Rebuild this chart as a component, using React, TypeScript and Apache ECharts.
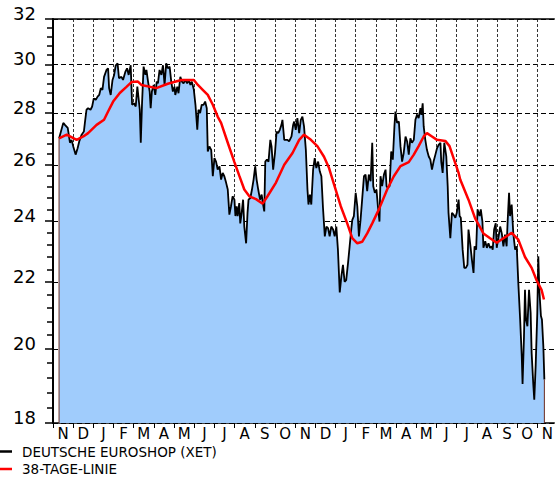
import React, { useEffect, useRef } from 'react';
import * as echarts from 'echarts';

// Month labels along the x axis (one per month, starting in November)
const MONTH_LABELS = ['N', 'D', 'J', 'F', 'M', 'A', 'M', 'J', 'J', 'A', 'S', 'O', 'N', 'D', 'J', 'F', 'M', 'A', 'M', 'J', 'J', 'A', 'S', 'O', 'N'];
// Y tick labels (log-scaled price axis)
const Y_TICK_LABELS = [18, 20, 22, 24, 26, 28, 30, 32];
const SERIES_NAMES = ['DEUTSCHE EUROSHOP (XET)', '38-TAGE-LINIE'];

// [months since 1 Nov, price]
const PRICE: [number, number][] = [
  [0.30, 26.99], [0.51, 27.6], [0.59, 27.52], [0.73, 27.4], [0.84, 26.83], [0.92, 26.94], [1.00, 26.7], [1.12, 26.38], [1.22, 26.62], [1.30, 26.88], [1.42, 27.14], [1.53, 27.26], [1.58, 27.6], [1.66, 28.12], [1.74, 28.18], [1.86, 28.12], [1.94, 28.25], [2.02, 28.58], [2.12, 28.52], [2.21, 28.65], [2.29, 28.72], [2.37, 29.0], [2.45, 28.93], [2.53, 29.47], [2.65, 29.76], [2.73, 29.83], [2.78, 29.0], [2.86, 28.72], [2.95, 29.34], [3.03, 29.55], [3.11, 29.96], [3.20, 30.04], [3.27, 29.41], [3.39, 29.47], [3.47, 29.34], [3.59, 29.69], [3.67, 29.83], [3.75, 29.55], [3.85, 29.96], [3.89, 29.0], [3.92, 28.32], [4.01, 28.38], [4.10, 28.25], [4.18, 29.06],
  [4.30, 28.12], [4.35, 26.83], [4.41, 28.32], [4.49, 29.9], [4.58, 29.55], [4.63, 29.76], [4.71, 29.27], [4.79, 28.86], [4.84, 28.18], [4.90, 28.86], [4.99, 29.13], [5.07, 28.72], [5.14, 29.27], [5.20, 29.2], [5.28, 29.76], [5.37, 29.55], [5.45, 29.96], [5.53, 29.13], [5.61, 30.04], [5.69, 29.83], [5.78, 29.9], [5.86, 29.27], [5.94, 28.86], [6.02, 29.06], [6.06, 28.72], [6.16, 29.06], [6.22, 28.79], [6.31, 29.47], [6.39, 29.27], [6.47, 29.2], [6.55, 29.34], [6.65, 29.2], [6.73, 29.34], [6.81, 29.13], [6.88, 29.27], [6.98, 28.93], [7.06, 28.32], [7.15, 27.33], [7.21, 28.12], [7.29, 27.99], [7.37, 28.32], [7.46, 28.32], [7.54, 28.45], [7.62, 28.18], [7.67, 26.5], [7.75, 26.69], [7.84, 26.56], [7.92, 25.58], [8.00, 26.25], [8.08, 26.12], [8.16, 25.82],
  [8.25, 25.94], [8.33, 25.46], [8.41, 25.7], [8.49, 25.58], [8.58, 25.34], [8.66, 25.1], [8.74, 24.22], [8.82, 24.51], [8.90, 24.86], [8.99, 24.74], [9.04, 24.17], [9.10, 24.51], [9.15, 24.17], [9.23, 24.62], [9.28, 23.92], [9.35, 24.28], [9.42, 24.74], [9.48, 23.81], [9.57, 23.25], [9.64, 24.28], [9.69, 24.74], [9.78, 24.8], [9.86, 25.1], [9.94, 25.46], [10.02, 25.94], [10.09, 25.46], [10.17, 25.1], [10.26, 24.74], [10.34, 24.92], [10.40, 24.62], [10.47, 24.33], [10.52, 26.12], [10.60, 26.19], [10.68, 26.12], [10.77, 26.94], [10.83, 26.69], [10.91, 25.82], [11.00, 26.44], [11.08, 27.26], [11.16, 27.2], [11.24, 27.33], [11.32, 27.52], [11.37, 27.72], [11.46, 26.94], [11.54, 26.94], [11.62, 26.94], [11.70, 26.88], [11.82, 27.07], [11.90, 27.52], [11.95, 27.65], [12.03, 27.33], [12.11, 27.79],
  [12.20, 27.2], [12.28, 27.72], [12.36, 27.85], [12.44, 27.46], [12.53, 26.56], [12.61, 25.1], [12.66, 24.57], [12.73, 24.92], [12.80, 24.57], [12.89, 25.82], [12.97, 26.25], [13.05, 25.88], [13.14, 26.12], [13.22, 25.76], [13.30, 25.58], [13.38, 24.45], [13.47, 23.48], [13.55, 23.81], [13.63, 23.76], [13.71, 23.48], [13.79, 23.81], [13.88, 23.71], [13.96, 23.48], [14.04, 23.81], [14.12, 23.04], [14.21, 21.68], [14.29, 22.18], [14.37, 22.55], [14.45, 22.01], [14.53, 22.06], [14.62, 22.6], [14.70, 23.15], [14.78, 23.71], [14.83, 24.03], [14.91, 24.17], [15.00, 24.98], [15.08, 24.51], [15.16, 23.48], [15.24, 24.03], [15.32, 24.74], [15.41, 25.58], [15.49, 25.64], [15.57, 25.04], [15.65, 25.64], [15.74, 25.4], [15.82, 26.83], [15.87, 25.22], [15.95, 24.98], [16.03, 25.1], [16.10, 24.51],
  [16.18, 23.98], [16.23, 25.58], [16.31, 25.22], [16.40, 25.64], [16.48, 25.82], [16.53, 25.22], [16.59, 25.16], [16.68, 25.22], [16.76, 26.5], [16.84, 26.19], [16.92, 27.46], [16.97, 28.05], [17.05, 27.6], [17.14, 27.65], [17.22, 26.69], [17.30, 26.12], [17.38, 26.44], [17.47, 27.07], [17.55, 26.88], [17.63, 26.38], [17.71, 27.0], [17.79, 26.83], [17.88, 26.94], [17.96, 27.72], [18.04, 27.92], [18.12, 27.79], [18.21, 28.18], [18.26, 27.92], [18.32, 28.38], [18.37, 27.46], [18.45, 26.94], [18.53, 26.56], [18.62, 26.31], [18.70, 26.19], [18.78, 25.82], [18.86, 26.12], [18.95, 26.38], [19.03, 26.62], [19.11, 26.75], [19.20, 26.83], [19.24, 26.12], [19.31, 25.7], [19.39, 26.83], [19.49, 26.31], [19.56, 25.22], [19.60, 24.28], [19.69, 23.42], [19.77, 24.28], [19.85, 24.22], [19.94, 24.11], [20.01, 24.28],
  [20.10, 24.74], [20.15, 24.17], [20.21, 24.11], [20.30, 23.04], [20.38, 22.45], [20.46, 22.45], [20.54, 22.55], [20.59, 23.71], [20.68, 23.2], [20.76, 22.71], [20.84, 22.29], [20.89, 23.15], [20.97, 23.04], [21.04, 24.4], [21.14, 24.17], [21.20, 24.4], [21.28, 23.98], [21.33, 23.1], [21.42, 23.32], [21.50, 23.1], [21.58, 23.25], [21.66, 23.1], [21.74, 23.15], [21.79, 23.04], [21.86, 23.71], [21.94, 23.92], [21.99, 23.1], [22.07, 23.42], [22.16, 23.81], [22.24, 23.58], [22.32, 23.15], [22.40, 23.54], [22.48, 23.15], [22.53, 23.98], [22.60, 24.98], [22.65, 24.17], [22.73, 24.57], [22.81, 23.58], [22.90, 23.04], [22.98, 23.15], [23.06, 21.96], [23.15, 20.86], [23.23, 19.78], [23.27, 19.03], [23.34, 20.35], [23.39, 21.76], [23.44, 20.86], [23.51, 20.66], [23.59, 21.76], [23.67, 21.06], [23.72, 19.88], [23.80, 19.03], [23.85, 18.61], [23.92, 19.54], [24.00, 21.06], [24.05, 22.82], [24.10, 21.76], [24.18, 20.96], [24.23, 20.86], [24.30, 20.07], [24.35, 19.15],
];

// 38-day moving average [months since 1 Nov, value]
const MA38: [number, number][] = [
  [0.30, 27.0], [0.68, 27.14], [1.17, 26.94], [1.50, 27.07], [1.74, 27.2], [2.16, 27.52], [2.53, 27.72], [2.73, 28.05], [2.98, 28.45], [3.31, 28.8], [3.64, 29.05], [3.89, 29.25], [4.21, 29.27], [4.38, 29.13], [5.12, 29.0], [5.69, 29.18], [6.36, 29.34], [6.98, 29.34], [7.18, 29.13], [7.42, 28.93], [7.67, 28.72], [7.92, 28.32], [8.16, 27.85], [8.33, 27.6], [8.66, 26.83], [8.99, 26.1], [9.23, 25.6], [9.48, 25.1], [9.73, 24.86], [10.06, 24.76], [10.39, 24.6], [10.63, 24.86], [11.05, 25.35], [11.46, 26.0], [11.87, 26.44], [12.20, 26.94], [12.44, 27.14], [12.78, 26.94], [13.10, 26.7], [13.43, 26.3], [13.68, 25.88], [13.93, 25.28], [14.26, 24.51], [14.58, 23.92], [14.83, 23.42], [15.08, 23.25], [15.32, 23.3], [15.57, 23.58], [15.82, 23.92], [16.15, 24.4], [16.56, 25.1], [16.89, 25.58], [17.22, 25.95], [17.63, 26.1], [17.88, 26.38], [18.12, 26.7], [18.37, 27.07], [18.53, 27.2], [18.78, 27.07], [19.03, 26.94], [19.44, 26.9], [19.65, 26.7], [19.85, 26.25], [20.10, 25.7], [20.18, 25.46], [20.59, 24.74], [20.92, 24.09], [21.33, 23.58], [21.66, 23.42], [21.99, 23.27], [22.32, 23.42], [22.73, 23.6], [23.06, 23.37], [23.39, 22.8], [23.72, 22.45], [23.97, 22.05], [24.21, 21.76], [24.33, 21.46],
];

const Y_MIN = 18;
const Y_MAX = 32;
const X_MAX = 24.84;

export default function App() {
  const ref = useRef<HTMLDivElement>(null);
  useEffect(() => {
    document.body.style.margin = '0';
    const chart = echarts.init(ref.current as HTMLDivElement, null, { renderer: 'svg' });
    const ln = Math.log;
    const majors = Y_TICK_LABELS.map(ln);
    const minors: number[] = [];
    for (let i = 0; i < Y_TICK_LABELS.length - 1; i++) {
      const a = Y_TICK_LABELS[i];
      const b = Y_TICK_LABELS[i + 1];
      for (let k = 1; k < 5; k++) minors.push(ln(a + (k * (b - a)) / 5));
    }
    const monthTicks = MONTH_LABELS.map((_, i) => i);
    const monthLabelPos = MONTH_LABELS.map((_, i) => i + 0.5);
    const toLog = (arr: [number, number][]) => arr.map(([m, v]) => [m, ln(v)]);
    const first = PRICE[0];
    const last = PRICE[PRICE.length - 1];
    const font = 'DejaVu Sans';

    chart.setOption({
      animation: false,
      backgroundColor: '#ffffff',
      textStyle: { fontFamily: font },
      grid: { left: 53, top: 19, right: 0, bottom: 54, containLabel: false },
      legend: {
        orient: 'vertical',
        left: 0,
        top: 443.5,
        height: 60,
        padding: 0,
        itemWidth: 12,
        itemHeight: 2.5,
        itemGap: 1.5,
        icon: 'rect',
        align: 'left',
        textStyle: { fontFamily: font, fontSize: 13.5, color: '#000', lineHeight: 16, padding: [0, 0, 0, 5] },
        data: SERIES_NAMES,
      },
      xAxis: [
        {
          type: 'value',
          min: 0,
          max: X_MAX,
          position: 'bottom',
          axisLine: { show: true, lineStyle: { color: '#000', width: 1.5 } },
          axisTick: { show: true, customValues: monthTicks, length: 5, lineStyle: { color: '#000', width: 1 } },
          axisLabel: {
            customValues: monthLabelPos,
            formatter: (v: number) => MONTH_LABELS[Math.floor(v)] ?? '',
            color: '#000',
            fontSize: 15,
            lineHeight: 12,
            fontFamily: font,
            margin: 5,
          },
          splitLine: { show: true, lineStyle: { color: '#333', type: [3, 2], width: 1 } },
        },
        {
          type: 'value',
          min: 0,
          max: X_MAX,
          position: 'top',
          axisLine: { show: true, lineStyle: { color: '#000', width: 1.5 } },
          axisTick: { show: false },
          axisLabel: { show: false },
          splitLine: { show: false },
        },
      ],
      yAxis: [
        {
          type: 'value',
          min: ln(Y_MIN),
          max: ln(Y_MAX),
          position: 'left',
          axisLine: { show: true, lineStyle: { color: '#000', width: 2 } },
          axisTick: { show: true, customValues: majors, length: 8, lineStyle: { color: '#000', width: 1.5 } },
          axisLabel: {
            customValues: majors,
            formatter: (v: number) => String(Math.round(Math.exp(v))),
            color: '#000',
            fontSize: 18,
            fontFamily: font,
            margin: 17,
            verticalAlign: 'bottom',
            lineHeight: 11,
          },
          splitLine: { show: true, lineStyle: { color: '#000', type: [5, 3], width: 1 } },
        },
        {
          type: 'value',
          min: ln(Y_MIN),
          max: ln(Y_MAX),
          position: 'left',
          offset: 0,
          axisLine: { show: false },
          axisTick: { show: true, customValues: minors, length: 6, lineStyle: { color: '#000', width: 1.5 } },
          axisLabel: { show: false },
          splitLine: { show: false },
        },
      ],
      series: [
        {
          name: SERIES_NAMES[0],
          type: 'line',
          data: toLog(PRICE),
          symbol: 'none',
          showSymbol: false,
          lineStyle: { color: '#000', width: 1.8 },
          itemStyle: { color: '#000' },
          areaStyle: { color: '#a0ccfc', opacity: 1, origin: 'start' },
          z: 2,
        },
        {
          name: SERIES_NAMES[1],
          type: 'line',
          data: toLog(MA38),
          symbol: 'none',
          showSymbol: false,
          lineStyle: { color: '#ff0000', width: 2.5 },
          itemStyle: { color: '#ff0000' },
          z: 3,
        },
        {
          name: 'edgeLeft',
          type: 'line',
          data: [[first[0], ln(Y_MIN)], [first[0], ln(first[1])]],
          symbol: 'none',
          silent: true,
          lineStyle: { color: '#6b2a1e', width: 1 },
          z: 2,
        },
        {
          name: 'edgeRight',
          type: 'line',
          data: [[last[0], ln(Y_MIN)], [last[0], ln(last[1])]],
          symbol: 'none',
          silent: true,
          lineStyle: { color: '#6b2a1e', width: 1 },
          z: 2,
        },
      ],
    });
    return () => chart.dispose();
  }, []);
  return <div ref={ref} style={{ position: 'absolute', left: 0, top: 0, width: 556, height: 477 }} />;
}
